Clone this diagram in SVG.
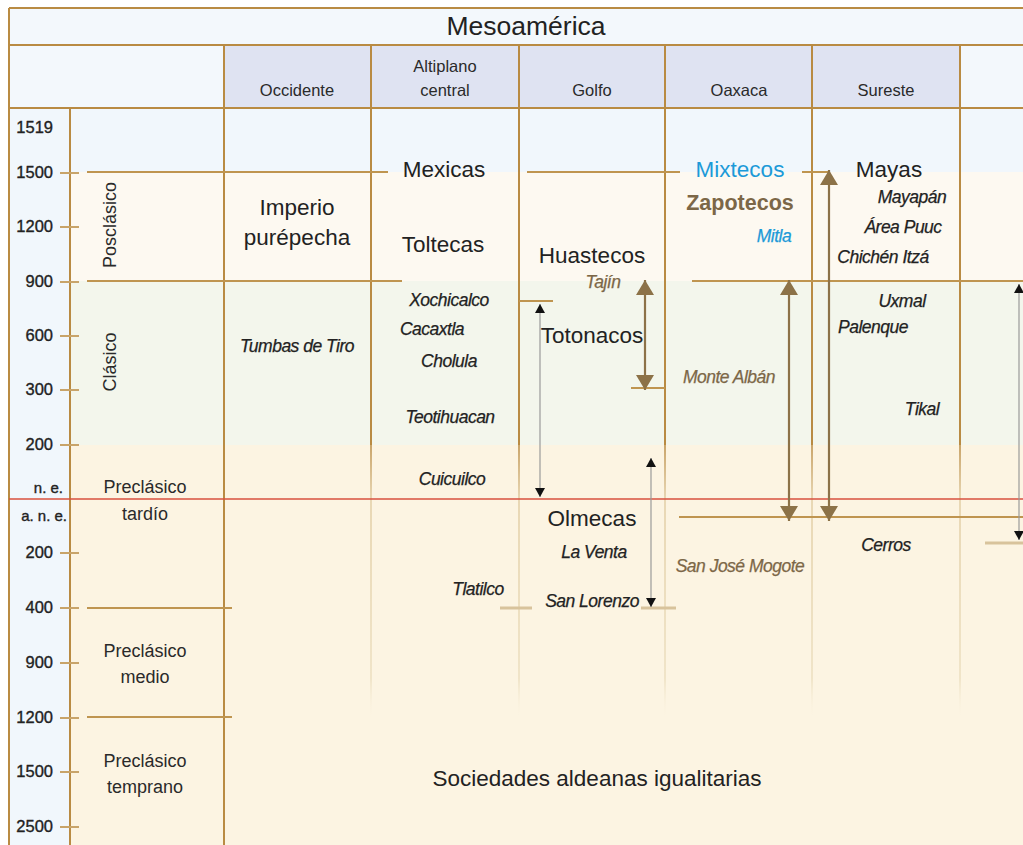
<svg xmlns="http://www.w3.org/2000/svg" width="1023" height="845" viewBox="0 0 1023 845">
<style>
text{font-family:"Liberation Sans",Arial,sans-serif;fill:#222}
.hd{font-size:16.5px;text-anchor:middle;fill:#2a2a2a}
.ax{font-size:16.5px;text-anchor:end;fill:#222;stroke:#222;stroke-width:0.35}
.per{font-size:18px;text-anchor:middle;fill:#2a2a2a}
.big{font-size:22.5px;text-anchor:middle;fill:#222}
.it{font-size:17.5px;font-style:italic;text-anchor:middle;letter-spacing:-0.5px;fill:#222;stroke:#222;stroke-width:0.25}
.brown{fill:#7c6747;stroke:#7c6747}
.blue{fill:#1c9ad8;stroke:#1c9ad8}
.grid{stroke:#b98b43;stroke-width:2;fill:none}
.fade{stroke:url(#fadeG);stroke-width:1.5;fill:none}
.tick{stroke:#c8a46a;stroke-width:2}
.hl{stroke:#bf9550;stroke-width:2}
.tan{stroke:#d8c39c;stroke-width:3}
.barr{stroke:#8c7248;stroke-width:2.2;marker-start:url(#bh);marker-end:url(#bh)}
.karr{stroke:#9a9a9a;stroke-width:1.2;marker-start:url(#kh);marker-end:url(#kh)}
</style>
<defs>
<linearGradient id="fadeG" gradientUnits="userSpaceOnUse" x1="0" y1="445" x2="0" y2="720">
<stop offset="0" stop-color="#b98b43"/>
<stop offset="0.2" stop-color="#e2cea5"/>
<stop offset="0.85" stop-color="#ecdfc0"/>
<stop offset="1" stop-color="#fcf4e2" stop-opacity="0"/>
</linearGradient>
<marker id="bh" viewBox="0 0 15 18" refX="15" refY="9" markerWidth="15" markerHeight="18" markerUnits="userSpaceOnUse" orient="auto-start-reverse"><path d="M0,0 L15,9 L0,18 z" fill="#8c7248"/></marker>
<marker id="kh" viewBox="0 0 9 10" refX="9" refY="5" markerWidth="9" markerHeight="10" markerUnits="userSpaceOnUse" orient="auto-start-reverse"><path d="M0,0 L9,5 L0,10 z" fill="#111"/></marker>
</defs>
<g id="background">
<rect x="0" y="0" width="1023" height="845" fill="#ffffff"/>
<rect x="9" y="8" width="1014" height="100" fill="#f3f8fc"/>
<rect x="224" y="45" width="736" height="63" fill="#dfe3f2"/>
<rect x="9" y="108" width="61" height="737" fill="#f1f7fc"/>
<rect x="70" y="108" width="953" height="64" fill="#f1f7fc"/>
<rect x="70" y="172" width="953" height="109" fill="#fdf9f1"/>
<rect x="70" y="281" width="953" height="164" fill="#f3f6ec"/>
<rect x="70" y="445" width="953" height="400" fill="#fcf4e2"/>
</g>
<g id="grid">
<line class="grid" x1="9" y1="8" x2="1023" y2="8"/>
<line class="grid" x1="9" y1="45" x2="1023" y2="45"/>
<line class="grid" x1="9" y1="108" x2="1023" y2="108"/>
<line class="grid" x1="9" y1="8" x2="9" y2="845"/>
<line class="grid" x1="70" y1="108" x2="70" y2="845"/>
<line class="grid" x1="224" y1="45" x2="224" y2="845"/>
<line class="grid" x1="371" y1="45" x2="371" y2="445"/>
<line class="grid" x1="519" y1="45" x2="519" y2="445"/>
<line class="grid" x1="665" y1="45" x2="665" y2="445"/>
<line class="grid" x1="812" y1="45" x2="812" y2="445"/>
<line class="grid" x1="960" y1="45" x2="960" y2="445"/>
<line class="fade" x1="371" y1="445" x2="371" y2="720"/>
<line class="fade" x1="519" y1="445" x2="519" y2="720"/>
<line class="fade" x1="665" y1="445" x2="665" y2="720"/>
<line class="fade" x1="812" y1="445" x2="812" y2="720"/>
<line class="fade" x1="960" y1="445" x2="960" y2="720"/>
<line x1="9" y1="499" x2="1023" y2="499" stroke="#d8503e" stroke-width="1.5"/>
</g>
<g id="axis">
<g class="tick">
<line x1="60" y1="173" x2="79" y2="173"/><line x1="60" y1="227" x2="79" y2="227"/>
<line x1="60" y1="282" x2="79" y2="282"/><line x1="60" y1="336" x2="79" y2="336"/>
<line x1="60" y1="390" x2="79" y2="390"/><line x1="60" y1="445" x2="79" y2="445"/>
<line x1="60" y1="553" x2="79" y2="553"/><line x1="60" y1="608" x2="79" y2="608"/>
<line x1="60" y1="663" x2="79" y2="663"/><line x1="60" y1="718" x2="79" y2="718"/>
<line x1="60" y1="772" x2="79" y2="772"/><line x1="60" y1="827" x2="79" y2="827"/>
</g>
<text class="ax" x="53" y="133">1519</text>
<text class="ax" x="53" y="178">1500</text>
<text class="ax" x="53" y="232">1200</text>
<text class="ax" x="53" y="287">900</text>
<text class="ax" x="53" y="341">600</text>
<text class="ax" x="53" y="395">300</text>
<text class="ax" x="53" y="450">200</text>
<text class="ax" x="63" y="493" style="font-size:15px">n. e.</text>
<text class="ax" x="67" y="521" style="font-size:15px">a. n. e.</text>
<text class="ax" x="53" y="558">200</text>
<text class="ax" x="53" y="613">400</text>
<text class="ax" x="53" y="668">900</text>
<text class="ax" x="53" y="723">1200</text>
<text class="ax" x="53" y="777">1500</text>
<text class="ax" x="53" y="832">2500</text>
</g>
<g id="connectors">
<line class="hl" x1="87" y1="172" x2="388" y2="172"/>
<line class="hl" x1="527" y1="172" x2="680" y2="172"/>
<line class="hl" x1="802" y1="172" x2="829" y2="172"/>
<line class="hl" x1="87" y1="281" x2="402" y2="281"/>
<line class="hl" x1="692" y1="281" x2="1023" y2="281"/>
<line class="hl" x1="519" y1="301" x2="553" y2="301"/>
<line class="hl" x1="631" y1="388" x2="665" y2="388"/>
<line class="hl" x1="679" y1="517" x2="1023" y2="517"/>
<line class="hl" x1="87" y1="608" x2="232" y2="608"/>
<line class="hl" x1="87" y1="717" x2="232" y2="717"/>
<line class="tan" x1="500" y1="608" x2="532" y2="608"/>
<line class="tan" x1="641" y1="608" x2="676" y2="608"/>
<line class="tan" x1="985" y1="543" x2="1023" y2="543"/>
<line class="barr" x1="645" y1="280" x2="645" y2="390"/>
<line class="barr" x1="789" y1="280" x2="789" y2="521"/>
<line class="barr" x1="829" y1="170" x2="829" y2="521"/>
<line class="karr" x1="540" y1="304" x2="540" y2="497"/>
<line class="karr" x1="651" y1="458" x2="651" y2="607"/>
<line class="karr" x1="1019" y1="284" x2="1019" y2="540"/>
</g>
<g id="title"><text x="526" y="35" style="font-size:26.5px;text-anchor:middle;fill:#222">Mesoamérica</text></g>
<g id="h-occidente"><text class="hd" x="297" y="96">Occidente</text></g>
<g id="h-altiplano"><text class="hd" x="445" y="72">Altiplano</text><text class="hd" x="445" y="96">central</text></g>
<g id="h-golfo"><text class="hd" x="592" y="96">Golfo</text></g>
<g id="h-oaxaca"><text class="hd" x="739" y="96">Oaxaca</text></g>
<g id="h-sureste"><text class="hd" x="886" y="96">Sureste</text></g>
<g id="p-posclasico"><text class="per" x="116" y="225" transform="rotate(-90 116 225)">Posclásico</text></g>
<g id="p-clasico"><text class="per" x="116" y="362" transform="rotate(-90 116 362)">Clásico</text></g>
<g id="p-tardio"><text class="per" x="145" y="493">Preclásico</text><text class="per" x="145" y="520">tardío</text></g>
<g id="p-medio"><text class="per" x="145" y="657">Preclásico</text><text class="per" x="145" y="683">medio</text></g>
<g id="p-temprano"><text class="per" x="145" y="767">Preclásico</text><text class="per" x="145" y="793">temprano</text></g>
<g id="imperio"><text class="big" x="297" y="215">Imperio</text><text class="big" x="297" y="245">purépecha</text></g>
<g id="tumbas"><text class="it" x="297" y="352">Tumbas de Tiro</text></g>
<g id="mexicas"><text class="big" x="444" y="177">Mexicas</text></g>
<g id="toltecas"><text class="big" x="443" y="252">Toltecas</text></g>
<g id="xochicalco"><text class="it" x="449" y="306">Xochicalco</text></g>
<g id="cacaxtla"><text class="it" x="432" y="335">Cacaxtla</text></g>
<g id="cholula"><text class="it" x="449" y="367">Cholula</text></g>
<g id="teotihuacan"><text class="it" x="450" y="423">Teotihuacan</text></g>
<g id="cuicuilco"><text class="it" x="452" y="485">Cuicuilco</text></g>
<g id="tlatilco"><text class="it" x="478" y="595">Tlatilco</text></g>
<g id="huastecos"><text class="big" x="592" y="263">Huastecos</text></g>
<g id="tajin"><text class="it brown" x="603" y="288">Tajín</text></g>
<g id="totonacos"><text class="big" x="592" y="343">Totonacos</text></g>
<g id="olmecas"><text class="big" x="592" y="526">Olmecas</text></g>
<g id="laventa"><text class="it" x="594" y="558">La Venta</text></g>
<g id="sanlorenzo"><text class="it" x="592" y="607">San Lorenzo</text></g>
<g id="mixtecos"><text class="big blue" x="740" y="177" style="stroke:none">Mixtecos</text></g>
<g id="zapotecos"><text class="big brown" x="740" y="210" style="font-weight:bold;font-size:21.5px;stroke:none">Zapotecos</text></g>
<g id="mitla"><text class="it blue" x="774" y="242">Mitla</text></g>
<g id="montealban"><text class="it brown" x="729" y="383">Monte Albán</text></g>
<g id="sanjose"><text class="it brown" x="740" y="572">San José Mogote</text></g>
<g id="mayas"><text class="big" x="889" y="177">Mayas</text></g>
<g id="mayapan"><text class="it" x="912" y="203">Mayapán</text></g>
<g id="puuc"><text class="it" x="903" y="233">Área Puuc</text></g>
<g id="chichen"><text class="it" x="883" y="263">Chichén Itzá</text></g>
<g id="uxmal"><text class="it" x="902" y="307">Uxmal</text></g>
<g id="palenque"><text class="it" x="873" y="333">Palenque</text></g>
<g id="tikal"><text class="it" x="922" y="415">Tikal</text></g>
<g id="cerros"><text class="it" x="886" y="551">Cerros</text></g>
<g id="sociedades"><text class="big" x="597" y="786">Sociedades aldeanas igualitarias</text></g>
</svg>
